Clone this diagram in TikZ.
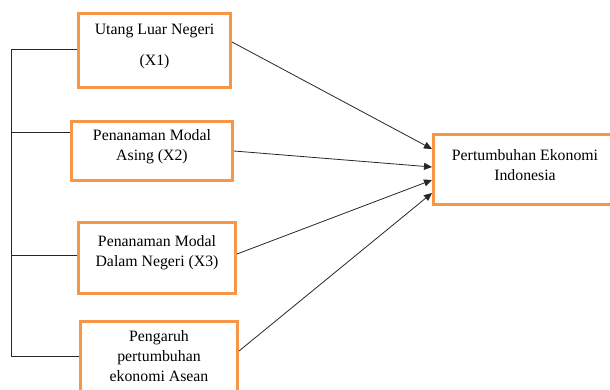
\documentclass[tikz,border=0pt]{standalone}
\usepackage{fontspec}
\setmainfont{Liberation Serif}
\usetikzlibrary{arrows.meta}
\definecolor{boxorange}{HTML}{F79646}
\begin{document}
\begin{tikzpicture}[x=1pt,y=-1pt,
  box/.style={draw=boxorange,line width=3pt,rectangle,inner sep=0pt},
  lbl/.style={align=center,font=\fontsize{15.8}{20}\selectfont,inner sep=0pt},
  conn/.style={draw=black!85,line width=0.8pt},
  arr/.style={conn,-{Triangle[length=8pt,width=7pt]}}]
\useasboundingbox (0,0) rectangle (610,389);
% boxes
\node[box,minimum width=152pt,minimum height=74pt] (b1) at (154.5,50.5) {};
\node[box,minimum width=161pt,minimum height=59pt] (b2) at (152,151) {};
\node[box,minimum width=157pt,minimum height=71pt] (b3) at (157,258) {};
\node[box,minimum width=157pt,minimum height=76pt] (b4) at (159,359.5) {};
\node[box,minimum width=185pt,minimum height=70pt] (b5) at (526,169.5) {};
% texts
\node[lbl] (t1) at (154.5,46.5) {Utang Luar Negeri\\[11pt](X1)};
\node[lbl] (t2) at (152,147) {Penanaman Modal\\Asing (X2)};
\node[lbl] (t3) at (157,253) {Penanaman Modal\\Dalam Negeri (X3)};
\node[lbl] (t4) at (159,356) {Pengaruh\\pertumbuhan\\ekonomi Asean};
\node[lbl] (t5) at (525,165) {Pertumbuhan Ekonomi\\Indonesia};
% left bus
\coordinate (bus) at (11.5,0);
\draw[conn] ([yshift=1.5pt]b1.west) -- ([yshift=1.5pt]b1.west -| bus)
  -- ([yshift=3.5pt]b4.west -| bus) -- ([yshift=3.5pt]b4.west);
\draw[conn] ([yshift=19pt]b2.west) -- ([yshift=19pt]b2.west -| bus);
\draw[conn] ([yshift=3pt]b3.west) -- ([yshift=3pt]b3.west -| bus);
% arrows
\draw[arr] ([yshift=8.5pt]b1.east) -- ([yshift=20.5pt]b5.west);
\draw[arr] (b2.east) -- ([yshift=2.5pt]b5.west);
\draw[arr] ([yshift=4pt]b3.east) -- ([yshift=-10.5pt]b5.west);
\draw[arr] ([yshift=8.5pt]b4.east) -- ([yshift=-23.5pt]b5.west);
\end{tikzpicture}
\end{document}
